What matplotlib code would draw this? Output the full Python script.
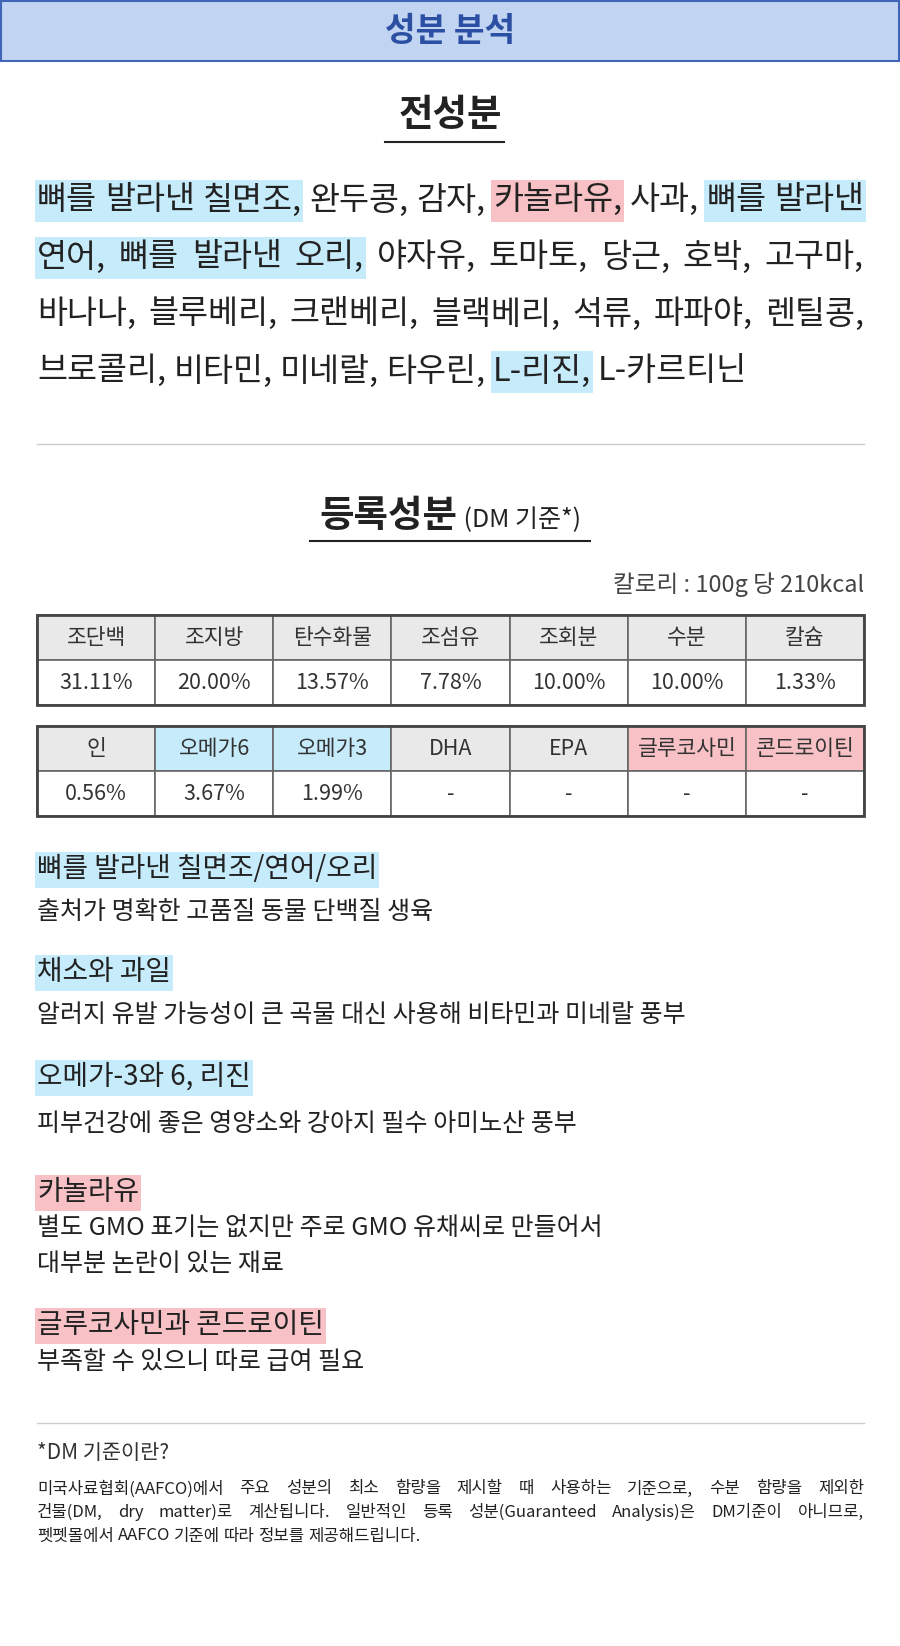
import matplotlib
matplotlib.use('Agg')
import matplotlib.pyplot as plt
import matplotlib.patches as patches

plt.rcParams['font.family'] = 'Noto Sans CJK KR'

BLUE = '#c6ebfb'
PINK = '#f7c1c5'
TEXT = '#222222'

# 전성분: (word, highlight) per line
ingredient_lines = [
    [('뼈를', BLUE), ('발라낸', BLUE), ('칠면조,', BLUE), ('완두콩,', None), ('감자,', None),
     ('카놀라유,', PINK), ('사과,', None), ('뼈를', BLUE), ('발라낸', BLUE)],
    [('연어,', BLUE), ('뼈를', BLUE), ('발라낸', BLUE), ('오리,', BLUE), ('야자유,', None),
     ('토마토,', None), ('당근,', None), ('호박,', None), ('고구마,', None)],
    [('바나나,', None), ('블루베리,', None), ('크랜베리,', None), ('블랙베리,', None),
     ('석류,', None), ('파파야,', None), ('렌틸콩,', None)],
    [('브로콜리,', None), ('비타민,', None), ('미네랄,', None), ('타우린,', None),
     ('L-리진,', BLUE), ('L-카르티닌', None)],
]

table1_head = ['조단백', '조지방', '탄수화물', '조섬유', '조회분', '수분', '칼슘']
table1_vals = ['31.11%', '20.00%', '13.57%', '7.78%', '10.00%', '10.00%', '1.33%']
table1_marks = [None] * 7
table2_head = ['인', '오메가6', '오메가3', 'DHA', 'EPA', '글루코사민', '콘드로이틴']
table2_vals = ['0.56%', '3.67%', '1.99%', '-', '-', '-', '-']
table2_marks = [None, BLUE, BLUE, None, None, PINK, PINK]

sections = [
    ('뼈를 발라낸 칠면조/연어/오리', BLUE, ['출처가 명확한 고품질 동물 단백질 생육']),
    ('채소와 과일', BLUE, ['알러지 유발 가능성이 큰 곡물 대신 사용해 비타민과 미네랄 풍부']),
    ('오메가-3와 6, 리진', BLUE, ['피부건강에 좋은 영양소와 강아지 필수 아미노산 풍부']),
    ('카놀라유', PINK, ['별도 GMO 표기는 없지만 주로 GMO 유채씨로 만들어서', '대부분 논란이 있는 재료']),
    ('글루코사민과 콘드로이틴', PINK, ['부족할 수 있으니 따로 급여 필요']),
]
section_y = [869, 972, 1077, 1192, 1325]
desc_dy = [43, 43, 47, 37, 37]

footnote = [
    '미국사료협회(AAFCO)에서 주요 성분의 최소 함량을 제시할 때 사용하는 기준으로, 수분 함량을 제외한',
    '건물(DM, dry matter)로 계산됩니다. 일반적인 등록 성분(Guaranteed Analysis)은 DM기준이 아니므로,',
    '펫펫몰에서 AAFCO 기준에 따라 정보를 제공해드립니다.',
]

W, H = 900, 1646
fig = plt.figure(figsize=(9, 16.46), dpi=100)
ax = fig.add_axes([0, 0, 1, 1])
ax.set_xlim(0, W)
ax.set_ylim(H, 0)
ax.axis('off')
renderer = fig.canvas.get_renderer()
L, R = 37, 864


def width_of(s, size, weight='normal'):
    t = ax.text(0, 0, s, fontsize=size, weight=weight)
    bb = t.get_window_extent(renderer)
    t.remove()
    return bb.width


def draw_words(words, y, size, justify, hl_top, hl_bot):
    widths = [width_of(w, size) for w, _ in words]
    space = width_of('가 가', size) - 2 * width_of('가', size)
    if justify and len(words) > 1:
        gap = (R - L - sum(widths)) / (len(words) - 1)
    else:
        gap = space
    xs, x = [], L
    for wd in widths:
        xs.append(x)
        x += wd + gap
    i = 0
    while i < len(words):
        c = words[i][1]
        if c is None:
            i += 1
            continue
        j = i
        while j + 1 < len(words) and words[j + 1][1] == c:
            j += 1
        x0 = xs[i] - 2
        x1 = xs[j] + widths[j] + 2
        ax.add_patch(patches.Rectangle((x0, y + hl_top), x1 - x0, hl_bot - hl_top,
                                       facecolor=c, edgecolor='none', zorder=1))
        i = j + 1
    for (w, _), xx in zip(words, xs):
        ax.text(xx, y, w, fontsize=size, color=TEXT, va='center', ha='left', zorder=3)


# header bar
ax.add_patch(patches.Rectangle((1, 1), W - 2, 60, facecolor='#c1d4f1', edgecolor='#4166b8',
                               linewidth=1.5, zorder=1))
ax.text(W / 2, 31, '성분 분석', fontsize=24, weight='bold', color='#2b4fa3',
        ha='center', va='center', zorder=3)

# 전성분
ax.text(W / 2, 114, '전성분', fontsize=27, weight='bold', color=TEXT, ha='center', va='center')
ax.plot([385, 504], [142, 142], color=TEXT, lw=1.5)
line_y = [200, 257, 314, 371]
for k, (words, y) in enumerate(zip(ingredient_lines, line_y)):
    draw_words(words, y, 23.5, k < len(ingredient_lines) - 1, -20, 22)

ax.plot([L, R], [444, 444], color='#cccccc', lw=1)

# 등록성분
w1 = width_of('등록성분', 27, 'bold')
w2 = width_of(' (DM 기준*)', 18)
x0 = W / 2 - (w1 + w2) / 2
ax.text(x0, 515, '등록성분', fontsize=27, weight='bold', color=TEXT, va='center')
ax.text(x0 + w1, 520, ' (DM 기준*)', fontsize=18, color=TEXT, va='center')
ax.plot([310, 590], [541, 541], color=TEXT, lw=1.5)

ax.text(R, 585, '칼로리 : 100g 당 210kcal', fontsize=17, color='#444444', ha='right', va='center')


def draw_table(top, heads, vals, marks):
    rh = 45
    cw = (R - L) / len(heads)
    for i, (h, v, m) in enumerate(zip(heads, vals, marks)):
        x = L + i * cw
        ax.add_patch(patches.Rectangle((x, top), cw, rh, facecolor=m or '#e9e9e9',
                                       edgecolor='#666666', lw=1.2, zorder=1))
        ax.add_patch(patches.Rectangle((x, top + rh), cw, rh, facecolor='white',
                                       edgecolor='#666666', lw=1.2, zorder=1))
        ax.text(x + cw / 2, top + rh / 2, h, fontsize=15.5, color='#333333', ha='center', va='center')
        ax.text(x + cw / 2, top + rh * 1.5, v, fontsize=15.5, color='#333333', ha='center', va='center')
    ax.add_patch(patches.Rectangle((L, top), R - L, 2 * rh, facecolor='none',
                                   edgecolor='#444444', lw=2, zorder=2))


draw_table(615, table1_head, table1_vals, table1_marks)
draw_table(726, table2_head, table2_vals, table2_marks)

# sections
for (title, col, desc), y, dy in zip(sections, section_y, desc_dy):
    draw_words([(title, col)], y, 20, False, -17, 19)
    for k, d in enumerate(desc):
        ax.text(L, y + dy + k * 35, d, fontsize=18, color=TEXT, va='center')

ax.plot([L, R], [1423, 1423], color='#cccccc', lw=1)
ax.text(L, 1453, '*DM 기준이란?', fontsize=15, color='#333333', va='center')
for k, line in enumerate(footnote):
    words = [(w, None) for w in line.split(' ')]
    draw_words(words, 1489 + k * 23.5, 12, k < len(footnote) - 1, 0, 0)

fig.savefig('out.png', dpi=100, facecolor='white')
